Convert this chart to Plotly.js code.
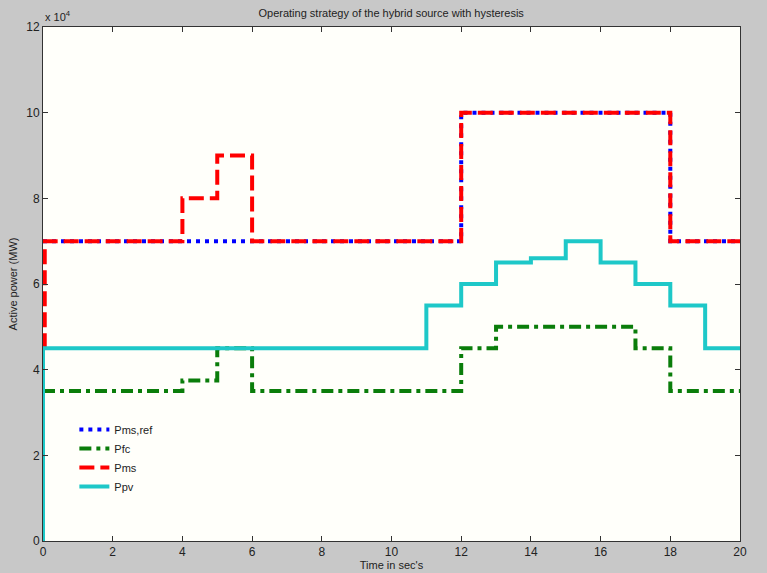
<!DOCTYPE html>
<html><head><meta charset="utf-8">
<script src="https://cdn.plot.ly/plotly-3.0.1.min.js"></script>
<style>html,body{margin:0;padding:0;background:#c8c8c8;}#chart{width:767px;height:573px;}</style>
</head><body><div id="chart"></div>
<script>
// Time breakpoints (s) and power values (W) for each step series
const refTime = [0, 12, 18, 20];
const refPower = [70000, 100000, 70000, 70000];

const fcTime = [0, 4, 5, 6, 12, 13, 17, 18, 20];
const fcPower = [35000, 37500, 45000, 35000, 45000, 50000, 45000, 35000, 35000];

const msTime = [0.05, 0.05, 4, 5, 6, 12, 18, 20];
const msPower = [45000, 70000, 80000, 90000, 70000, 100000, 70000, 70000];

const pvTime = [0, 0, 11, 12, 13, 14, 15, 16, 17, 18, 19, 20];
const pvPower = [0, 45000, 55000, 60000, 65000, 66000, 70000, 65000, 60000, 55000, 45000, 45000];

const seriesNames = ['Pms,ref', 'Pfc', 'Pms', 'Ppv'];
const yTickVals = [0, 20000, 40000, 60000, 80000, 100000, 120000];
const yTickText = ['0', '2', '4', '6', '8', '10', '12'];
const xTickVals = [0, 2, 4, 6, 8, 10, 12, 14, 16, 18, 20];

const traces = [
  {x: refTime, y: refPower, name: seriesNames[0], mode: 'lines', line: {shape: 'hv', color: '#0000ff', width: 4, dash: '4px,5px'}},
  {x: fcTime, y: fcPower, name: seriesNames[1], mode: 'lines', line: {shape: 'hv', color: '#0a7d0a', width: 4, dash: '12px,5px,4px,5px'}},
  {x: msTime, y: msPower, name: seriesNames[2], mode: 'lines', line: {shape: 'hv', color: '#ff0000', width: 4, dash: '15px,6px'}},
  {x: pvTime, y: pvPower, name: seriesNames[3], mode: 'lines', line: {shape: 'hv', color: '#1ec8c8', width: 4}}
];

const axisCommon = {
  showgrid: false, zeroline: false, showline: true, linecolor: '#333', linewidth: 1,
  mirror: 'ticks', ticks: 'inside', ticklen: 5, tickcolor: '#333',
  tickfont: {family: 'Liberation Sans, Arial, sans-serif', size: 12, color: '#222'}
};

const layout = {
  width: 767, height: 573,
  paper_bgcolor: '#c8c8c8', plot_bgcolor: '#fffffa',
  margin: {l: 43, r: 27, t: 27, b: 32},
  showlegend: true,
  legend: {x: 0.045, y: 0.245, xanchor: 'left', yanchor: 'top', bgcolor: 'rgba(0,0,0,0)', borderwidth: 0,
    font: {family: 'Liberation Sans, Arial, sans-serif', size: 11, color: '#222'}, tracegroupgap: 0},
  title: {text: 'Operating strategy of the hybrid source with hysteresis', x: 0.51, xanchor: 'center', y: 0.977, yanchor: 'middle',
    font: {family: 'Liberation Sans, Arial, sans-serif', size: 11, color: '#222'}},
  xaxis: Object.assign({}, axisCommon, {range: [0, 20], tickvals: xTickVals,
    title: {text: 'Time in sec\'s', standoff: 2, font: {family: 'Liberation Sans, Arial, sans-serif', size: 11, color: '#222'}}}),
  yaxis: Object.assign({}, axisCommon, {range: [0, 120000], tickvals: yTickVals, ticktext: yTickText,
    title: {text: 'Active power (MW)', standoff: 6, font: {family: 'Liberation Sans, Arial, sans-serif', size: 11, color: '#222'}}}),
  annotations: [{xref: 'paper', yref: 'paper', x: 0, y: 1, xanchor: 'left', yanchor: 'bottom', yshift: 2,
    text: 'x 10<sup>4</sup>', showarrow: false, font: {family: 'Liberation Sans, Arial, sans-serif', size: 11, color: '#222'}}]
};

Plotly.newPlot('chart', traces, layout, {displayModeBar: false, staticPlot: true});
</script>
</body></html>
